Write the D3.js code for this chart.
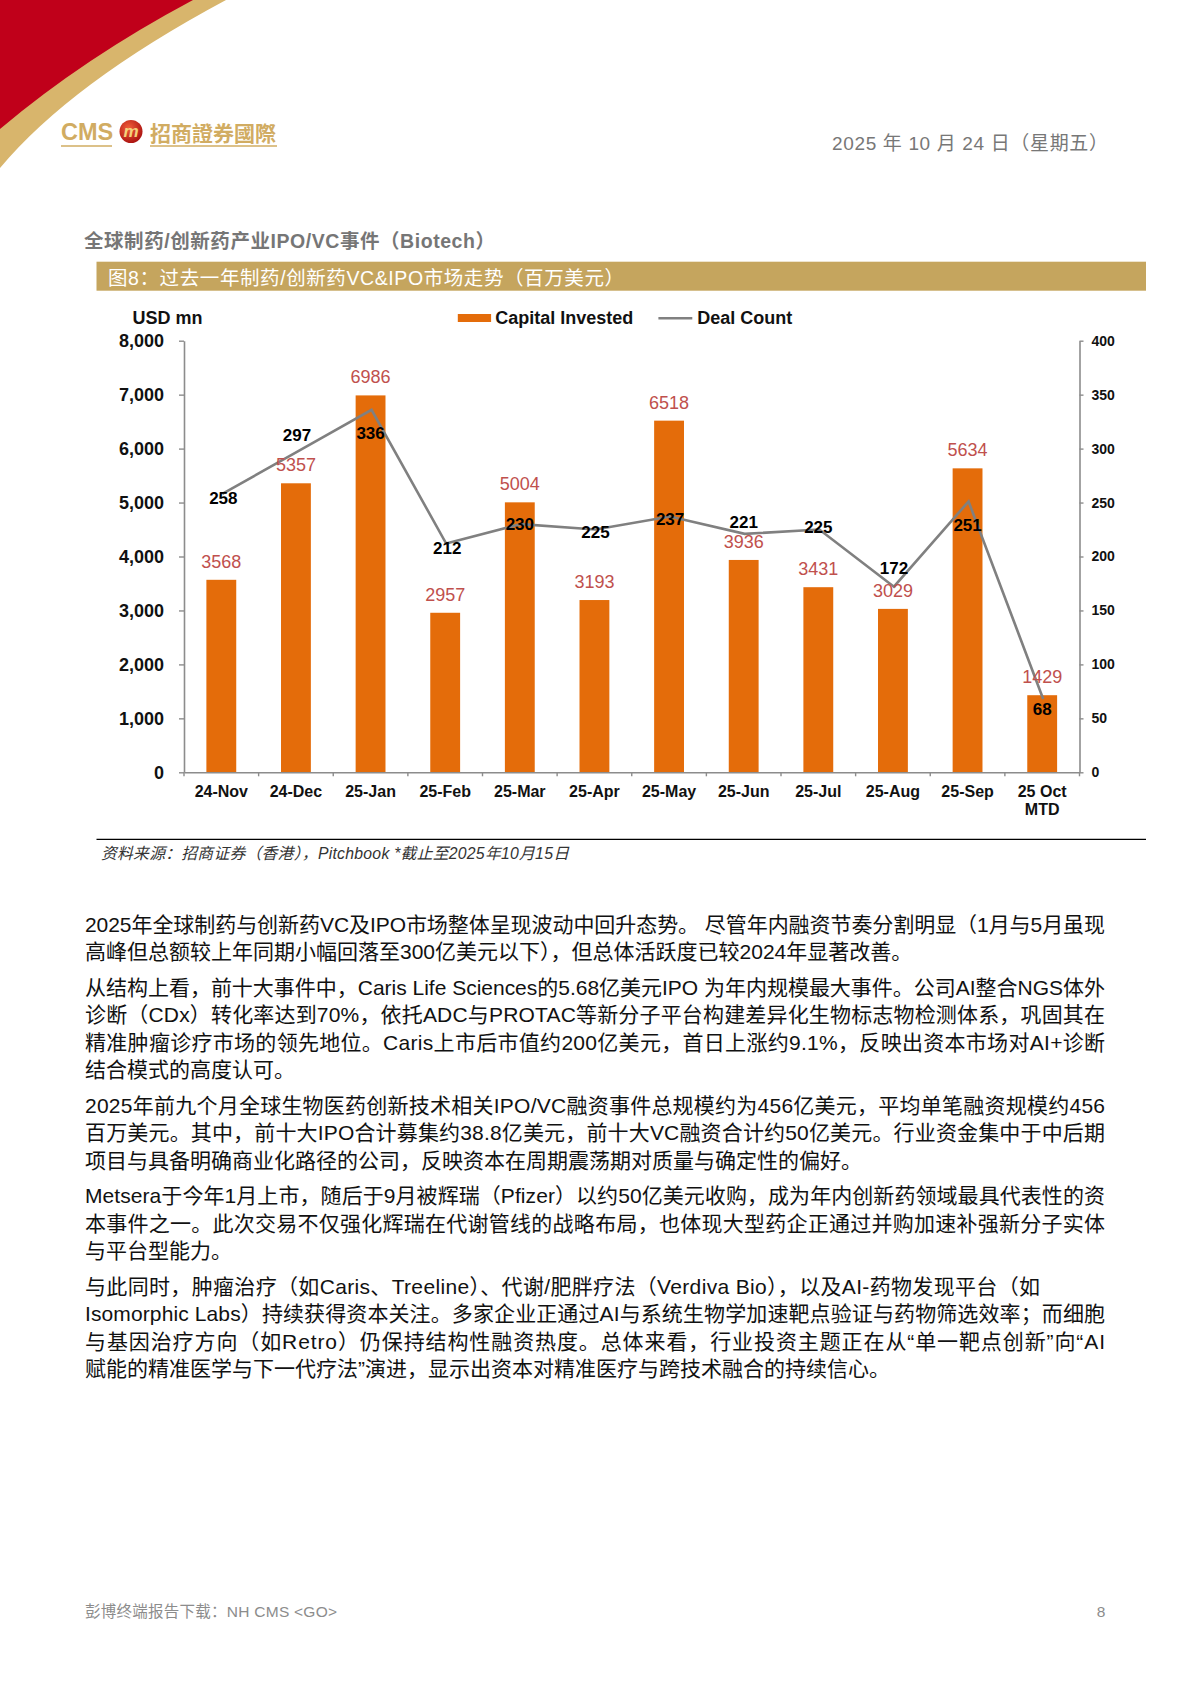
<!DOCTYPE html>
<html>
<head>
<meta charset="utf-8">
<script src="https://cdn.jsdelivr.net/npm/d3@7"></script>
<style>
  body { margin: 0; background: #fff; }
  svg { display: block; }
  text { font-family: "Liberation Sans", Arial, "Noto Sans CJK SC", sans-serif; }
</style>
</head>
<body>
<svg id="page" width="1191" height="1683"></svg>
<script>
// ---------------- DATA ----------------
const categories = ["24-Nov", "24-Dec", "25-Jan", "25-Feb", "25-Mar", "25-Apr",
                    "25-May", "25-Jun", "25-Jul", "25-Aug", "25-Sep", "25 Oct MTD"];
const capitalInvested = [3568, 5357, 6986, 2957, 5004, 3193, 6518, 3936, 3431, 3029, 5634, 1429];
const dealCount = [258, 297, 336, 212, 230, 225, 237, 221, 225, 172, 251, 68];
const leftTickValues = [0, 1000, 2000, 3000, 4000, 5000, 6000, 7000, 8000];
const rightTickValues = [0, 50, 100, 150, 200, 250, 300, 350, 400];
const seriesNames = ["Capital Invested", "Deal Count"];
const leftAxisTitle = "USD mn";

// label placement (style only): offset of each deal-count label from its point
const dealLabelOffsets = [[2, 4.5], [1, -17], [0, 23], [2, 4.7], [0, 0], [1, 2.8],
                          [1, 2.4], [0, -12], [0, -2.8], [1, -18.4], [0, 23.5], [0, 10.4]];

const CJK = "'Liberation Sans', Arial, 'Noto Sans CJK SC', sans-serif";
const svg = d3.select("#page");

// ---------------- HEADER ----------------
svg.append("path").attr("d", "M0,0 L226,0 Q71,83 0,168 Z").attr("fill", "#D8B56C");
svg.append("path").attr("d", "M0,0 L193,0 Q84,58 0,129 Z").attr("fill", "#C0001A");

const defs = svg.append("defs");
const rg = defs.append("radialGradient").attr("id", "logoBall").attr("cx", "40%").attr("cy", "35%").attr("r", "70%");
rg.append("stop").attr("offset", "0%").attr("stop-color", "#F2603A");
rg.append("stop").attr("offset", "100%").attr("stop-color", "#A80F0F");

const gold = "#D1AC62";
svg.append("text").attr("x", 61).attr("y", 140).text("CMS")
  .attr("font-size", 23.5).attr("font-weight", "bold").attr("fill", gold);
svg.append("line").attr("x1", 61).attr("x2", 112).attr("y1", 146).attr("y2", 146)
  .attr("stroke", gold).attr("stroke-width", 1.5);
svg.append("circle").attr("cx", 131).attr("cy", 131.5).attr("r", 11.5).attr("fill", "url(#logoBall)");
svg.append("text").attr("x", 131).attr("y", 137).attr("text-anchor", "middle").text("m")
  .attr("font-size", 17).attr("font-weight", "bold").attr("font-style", "italic").attr("fill", "#F4D27C");
svg.append("text").attr("x", 150).attr("y", 141).text("招商證券國際")
  .style("font-family", "'Noto Sans CJK TC', sans-serif")
  .attr("font-size", 21).attr("font-weight", "bold").attr("fill", gold);
svg.append("line").attr("x1", 150).attr("x2", 277).attr("y1", 146).attr("y2", 146)
  .attr("stroke", gold).attr("stroke-width", 1.5);

svg.append("text").attr("x", 832).attr("y", 150).text("2025 年 10 月 24 日（星期五）")
  .attr("textLength", 276).attr("lengthAdjust", "spacing")
  .style("font-family", CJK).attr("font-size", 19).attr("fill", "#777");

// section title
svg.append("text").attr("x", 84).attr("y", 248).text("全球制药/创新药产业IPO/VC事件（Biotech）")
  .attr("textLength", 411).attr("lengthAdjust", "spacing")
  .style("font-family", CJK).attr("font-size", 19.5).attr("font-weight", "bold").attr("fill", "#767676");

// banner
svg.append("rect").attr("x", 96.5).attr("y", 261.7).attr("width", 1049.5).attr("height", 29)
  .attr("fill", "#C5A55E");
svg.append("text").attr("x", 108).attr("y", 284.5).text("图8：过去一年制药/创新药VC&IPO市场走势（百万美元）")
  .attr("textLength", 516).attr("lengthAdjust", "spacing")
  .style("font-family", CJK).attr("font-size", 19.5).attr("fill", "#fff");

// ---------------- CHART ----------------
const X0 = 184, X1 = 1079.5, Y0 = 772.3, Y1 = 340.7;
const x = d3.scaleBand().domain(categories).range([X0, X1]).padding(0);
const yL = d3.scaleLinear().domain([0, 8000]).range([Y0, Y1]);
const yR = d3.scaleLinear().domain([0, 400]).range([Y0, Y1]);
const bw = x.bandwidth() * 0.4;
const cx = d => x(d) + x.bandwidth() / 2;
const axisGray = "#8C8C8C";

const chart = svg.append("g");

// bars
chart.selectAll("rect.bar").data(categories).join("rect").attr("class", "bar")
  .attr("x", (d) => cx(d) - bw / 2)
  .attr("y", (d, i) => yL(capitalInvested[i]))
  .attr("width", bw)
  .attr("height", (d, i) => Y0 - yL(capitalInvested[i]))
  .attr("fill", "#E46C0A");

// left axis
const gL = chart.append("g").attr("transform", `translate(${X0},0)`)
  .call(d3.axisLeft(yL).tickValues(leftTickValues).tickFormat(d3.format(","))
    .tickSizeInner(5).tickSizeOuter(0).tickPadding(15));
gL.select(".domain").attr("stroke", axisGray).attr("stroke-width", 1.6);
gL.selectAll(".tick line").attr("stroke", axisGray).attr("stroke-width", 1.4);
gL.selectAll(".tick text").attr("font-size", 18).attr("font-weight", "bold").attr("fill", "#111")
  .style("font-family", "'Liberation Sans', Arial, sans-serif");

// right axis
const gR = chart.append("g").attr("transform", `translate(${X1},0)`)
  .call(d3.axisRight(yR).tickValues(rightTickValues).tickSizeInner(4).tickSizeOuter(0).tickPadding(8));
gR.select(".domain").attr("stroke", axisGray).attr("stroke-width", 1.6);
gR.selectAll(".tick line").attr("stroke", axisGray).attr("stroke-width", 1.4);
gR.selectAll(".tick text").attr("font-size", 14).attr("font-weight", "bold").attr("fill", "#111")
  .style("font-family", "'Liberation Sans', Arial, sans-serif");

// bottom axis with boundary ticks
const gB = chart.append("g").attr("transform", `translate(0,${Y0})`)
  .call(d3.axisBottom(x).tickSize(0).tickPadding(0).tickFormat(""));
gB.select(".domain").attr("stroke", axisGray).attr("stroke-width", 1.6);
const boundaries = categories.map(c => x(c)).concat([X1]);
chart.selectAll("line.btick").data(boundaries).join("line").attr("class", "btick")
  .attr("x1", d => d).attr("x2", d => d).attr("y1", Y0).attr("y2", Y0 + 4)
  .attr("stroke", axisGray).attr("stroke-width", 1.4);
chart.selectAll("text.cat").data(categories).join("text").attr("class", "cat")
  .attr("x", d => cx(d)).attr("y", 796.7).attr("text-anchor", "middle")
  .attr("font-size", 16).attr("font-weight", "bold").attr("fill", "#111")
  .each(function (d) {
    const parts = d.split(" ");
    const lines = parts.length > 2 ? [parts.slice(0, -1).join(" "), parts[parts.length - 1]] : [d];
    d3.select(this).selectAll("tspan").data(lines).join("tspan")
      .attr("x", cx(d)).attr("dy", (l, i) => i === 0 ? 0 : 18.3).text(l => l);
  });

// deal count line
const line = d3.line().x((d, i) => cx(categories[i]) + 1).y(d => yR(d));
chart.append("path").datum(dealCount).attr("d", line)
  .attr("fill", "none").attr("stroke", "#808080").attr("stroke-width", 2.6).attr("stroke-linejoin", "miter");

// bar value labels
chart.selectAll("text.barlab").data(capitalInvested).join("text").attr("class", "barlab")
  .attr("x", (d, i) => cx(categories[i]))
  .attr("y", d => yL(d) - 12)
  .attr("text-anchor", "middle").attr("font-size", 18).attr("fill", "#C0504D")
  .text(d => d);

// deal labels
chart.selectAll("text.deallab").data(dealCount).join("text").attr("class", "deallab")
  .attr("x", (d, i) => cx(categories[i]) + dealLabelOffsets[i][0])
  .attr("y", (d, i) => yR(d) + dealLabelOffsets[i][1] + 6)
  .attr("text-anchor", "middle").attr("font-size", 17).attr("font-weight", "bold").attr("fill", "#000")
  .text(d => d);

// axis title & legend
chart.append("text").attr("x", 132.5).attr("y", 324.3).text(leftAxisTitle)
  .attr("font-size", 18).attr("font-weight", "bold").attr("fill", "#111");
chart.append("rect").attr("x", 457.8).attr("y", 314).attr("width", 33.3).attr("height", 8).attr("fill", "#E46C0A");
chart.append("text").attr("x", 495.3).attr("y", 324.3).text(seriesNames[0])
  .attr("font-size", 18).attr("font-weight", "bold").attr("fill", "#111");
chart.append("line").attr("x1", 658.4).attr("x2", 692.3).attr("y1", 318.3).attr("y2", 318.3)
  .attr("stroke", "#808080").attr("stroke-width", 2.6);
chart.append("text").attr("x", 697.2).attr("y", 324.3).text(seriesNames[1])
  .attr("font-size", 18).attr("font-weight", "bold").attr("fill", "#111");

// source
svg.append("line").attr("x1", 96.5).attr("x2", 1146).attr("y1", 839.3).attr("y2", 839.3)
  .attr("stroke", "#000").attr("stroke-width", 1.3);
svg.append("text").attr("x", 101).attr("y", 859).text("资料来源：招商证券（香港），Pitchbook *截止至2025年10月15日")
  .attr("textLength", 468).attr("lengthAdjust", "spacing")
  .style("font-family", CJK).attr("font-size", 15.8).attr("font-style", "italic").attr("fill", "#333");

// ---------------- BODY TEXT ----------------
const paragraphs = [
  [["2025年全球制药与创新药VC及IPO市场整体呈现波动中回升态势。 尽管年内融资节奏分割明显（1月与5月虽现", 1020],
   ["高峰但总额较上年同期小幅回落至300亿美元以下），但总体活跃度已较2024年显著改善。", 0]],
  [["从结构上看，前十大事件中，Caris Life Sciences的5.68亿美元IPO 为年内规模最大事件。公司AI整合NGS体外", 1020],
   ["诊断（CDx）转化率达到70%，依托ADC与PROTAC等新分子平台构建差异化生物标志物检测体系，巩固其在", 1020],
   ["精准肿瘤诊疗市场的领先地位。Caris上市后市值约200亿美元，首日上涨约9.1%，反映出资本市场对AI+诊断", 1020],
   ["结合模式的高度认可。", 0]],
  [["2025年前九个月全球生物医药创新技术相关IPO/VC融资事件总规模约为456亿美元，平均单笔融资规模约456", 1020],
   ["百万美元。其中，前十大IPO合计募集约38.8亿美元，前十大VC融资合计约50亿美元。行业资金集中于中后期", 1020],
   ["项目与具备明确商业化路径的公司，反映资本在周期震荡期对质量与确定性的偏好。", 0]],
  [["Metsera于今年1月上市，随后于9月被辉瑞（Pfizer）以约50亿美元收购，成为年内创新药领域最具代表性的资", 1020],
   ["本事件之一。此次交易不仅强化辉瑞在代谢管线的战略布局，也体现大型药企正通过并购加速补强新分子实体", 1020],
   ["与平台型能力。", 0]],
  [["与此同时，肿瘤治疗（如Caris、Treeline）、代谢/肥胖疗法（Verdiva Bio），以及AI-药物发现平台（如", 955],
   ["Isomorphic Labs）持续获得资本关注。多家企业正通过AI与系统生物学加速靶点验证与药物筛选效率；而细胞", 1020],
   ["与基因治疗方向（如Retro）仍保持结构性融资热度。总体来看，行业投资主题正在从“单一靶点创新”向“AI", 1020],
   ["赋能的精准医学与下一代疗法”演进，显示出资本对精准医疗与跨技术融合的持续信心。", 0]]
];

const body = svg.append("g").style("font-family", CJK).attr("font-size", 21).attr("fill", "#111");
let yb = 931.5;
paragraphs.forEach((p, pi) => {
  if (pi > 0) yb += 35.6 - 27.5;
  p.forEach(([t, len]) => {
    const el = body.append("text").attr("x", 85).attr("y", yb).text(t);
    if (len) el.attr("textLength", len).attr("lengthAdjust", "spacing");
    yb += 27.5;
  });
});

// ---------------- FOOTER ----------------
svg.append("text").attr("x", 85).attr("y", 1617).text("彭博终端报告下载：NH CMS <GO>")
  .attr("textLength", 252).attr("lengthAdjust", "spacing")
  .style("font-family", CJK).attr("font-size", 15.5).attr("fill", "#8C8C8C");
svg.append("text").attr("x", 1101).attr("y", 1617).attr("text-anchor", "middle").text("8")
  .attr("font-size", 15.5).attr("fill", "#8C8C8C");
</script>
</body>
</html>
